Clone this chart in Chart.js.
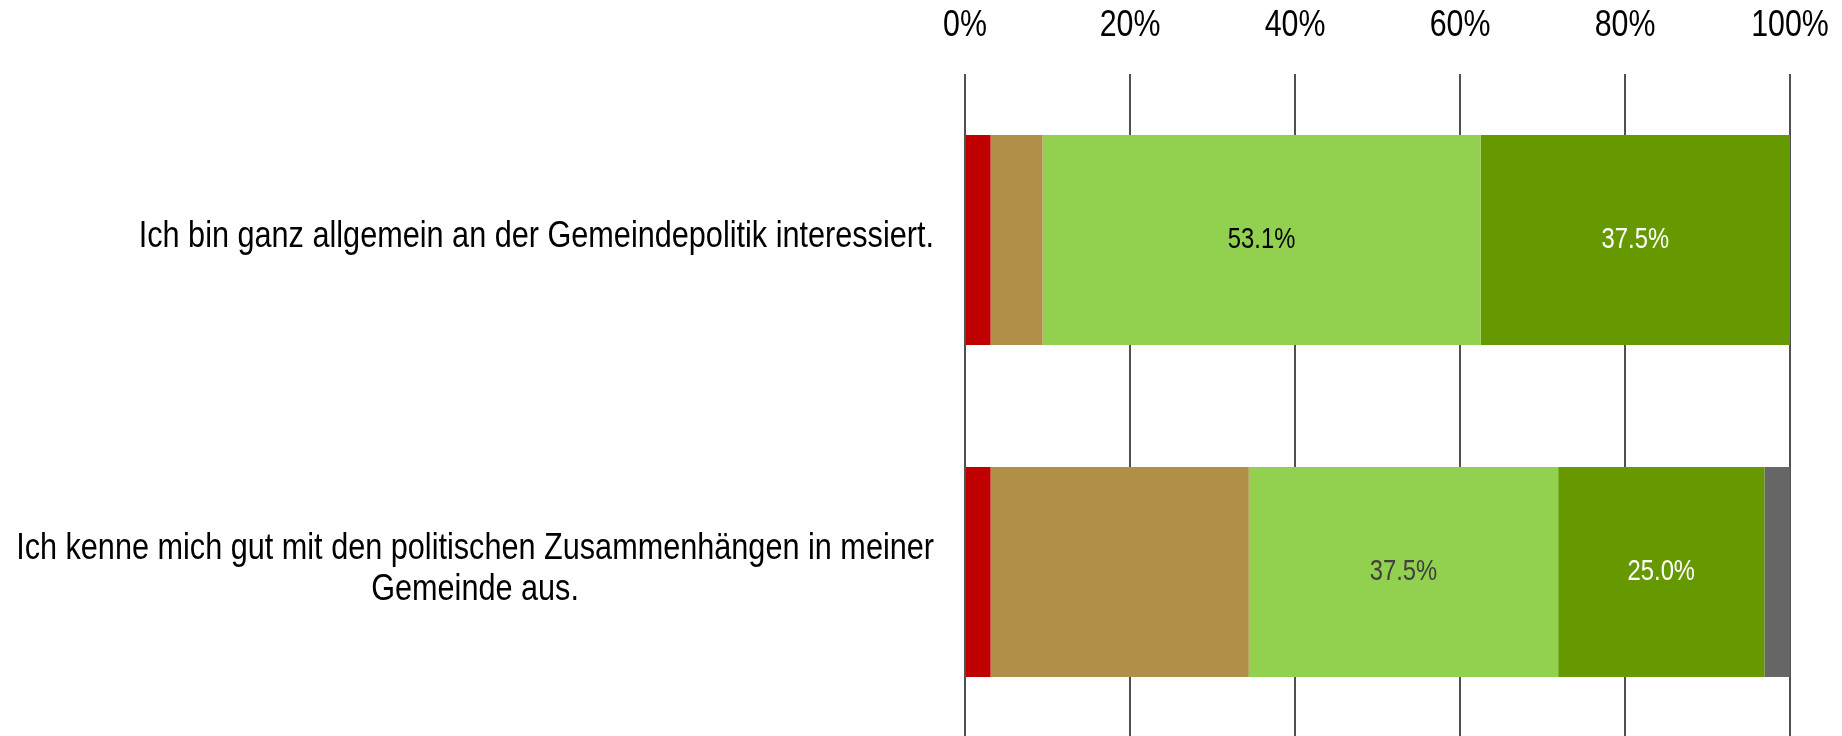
<!DOCTYPE html>
<html>
<head>
<meta charset="utf-8">
<script src="https://cdn.jsdelivr.net/npm/chart.js@4.4.1/dist/chart.umd.min.js"></script>
<style>
  html, body { margin: 0; padding: 0; background: #fff; overflow: hidden; }
  canvas { display: block; }
</style>
</head>
<body>
<canvas id="chart" width="1842" height="738"></canvas>
<script>
// statements (multi-line where the original wraps)
const categories = [
    ['Ich bin ganz allgemein an der Gemeindepolitik interessiert.'],
    ['Ich kenne mich gut mit den politischen Zusammenhängen in meiner', 'Gemeinde aus.']
];

const seriesNames = ['trifft gar nicht zu', 'trifft eher nicht zu', 'trifft eher zu', 'trifft voll zu', 'weiß nicht'];
const seriesColors = ['#C00000', '#B28F48', '#92D050', '#669900', '#666666'];

// shares in % per statement
const valsGarNicht   = [3.1, 3.1];
const valsEherNicht  = [6.3, 31.3];
const valsEher       = [53.1, 37.5];
const valsVoll       = [37.5, 25.0];
const valsWeissNicht = [0, 3.1];

// text colour of the value labels inside the bars (null = no label)
const labelColors = [
    null,
    null,
    ['#000000', '#404040'],
    ['#ffffff', '#ffffff'],
    null
];

const xTicks = [0, 20, 40, 60, 80, 100];

// no narrow font installed -> squeeze Liberation Sans horizontally
const FONT = "'Liberation Sans', Arial, sans-serif";
const NARROW = 0.82;
Chart.defaults.font.family = FONT;

const allValues = [valsGarNicht, valsEherNicht, valsEher, valsVoll, valsWeissNicht];

function narrowText(ctx, text, x, y, sx = NARROW) {
    ctx.save();
    ctx.translate(x, y);
    ctx.scale(sx, 1);
    ctx.fillText(text, 0, 0);
    ctx.restore();
}

const labelPlugin = {
    id: 'labels',
    afterDraw(chart) {
        const ctx = chart.ctx;
        ctx.save();
        ctx.textAlign = 'center';
        ctx.textBaseline = 'middle';

        // Werte in den Balken
        ctx.font = '29px ' + FONT;
        chart.data.datasets.forEach((ds, i) => {
            if (!labelColors[i]) return;
            const meta = chart.getDatasetMeta(i);
            meta.data.forEach((bar, j) => {
                const c = bar.getCenterPoint();
                ctx.fillStyle = labelColors[i][j];
                narrowText(ctx, ds.data[j].toFixed(1) + '%', c.x, c.y);
            });
        });

        // x-Achse oben
        const xScale = chart.scales.x;
        ctx.font = '37px ' + FONT;
        ctx.fillStyle = '#000';
        xTicks.forEach(v => {
            narrowText(ctx, v + '%', xScale.getPixelForValue(v), 26);
        });

        // Kategorien links, Zeilen zentriert, Block rechtsbündig
        const yScale = chart.scales.y;
        const right = chart.chartArea.left - 31;
        const lh = 41;
        const sx = 0.828;
        categories.forEach((lines, i) => {
            const py = yScale.getPixelForValue(i) - 3;
            const w = Math.max(...lines.map(l => ctx.measureText(l).width)) * sx;
            const cx = right - w / 2;
            lines.forEach((l, k) => {
                narrowText(ctx, l, cx, py + (k - (lines.length - 1) / 2) * lh, sx);
            });
        });
        ctx.restore();
    }
};

new Chart(document.getElementById('chart'), {
    type: 'bar',
    data: {
        labels: categories,
        datasets: seriesNames.map((name, i) => ({
            label: name,
            data: allValues[i],
            backgroundColor: seriesColors[i],
            borderWidth: 0,
            categoryPercentage: 1,
            barPercentage: 0.633
        }))
    },
    options: {
        indexAxis: 'y',
        responsive: false,
        animation: false,
        layout: { padding: { left: 0, right: 52, top: 0, bottom: 0 } },
        plugins: {
            legend: { display: false },
            tooltip: { enabled: false }
        },
        scales: {
            x: {
                position: 'top',
                stacked: true,
                min: 0,
                max: 100,
                afterBuildTicks(scale) {
                    scale.ticks = xTicks.map(v => ({ value: v }));
                },
                afterFit(scale) { scale.height = 74; },
                ticks: { display: false },
                grid: { color: '#505050', lineWidth: 2, drawTicks: false },
                border: { display: false }
            },
            y: {
                stacked: true,
                afterFit(scale) { scale.width = 965; },
                ticks: { display: false },
                grid: { display: false },
                border: { display: false }
            }
        }
    },
    plugins: [labelPlugin]
});
</script>
</body>
</html>
